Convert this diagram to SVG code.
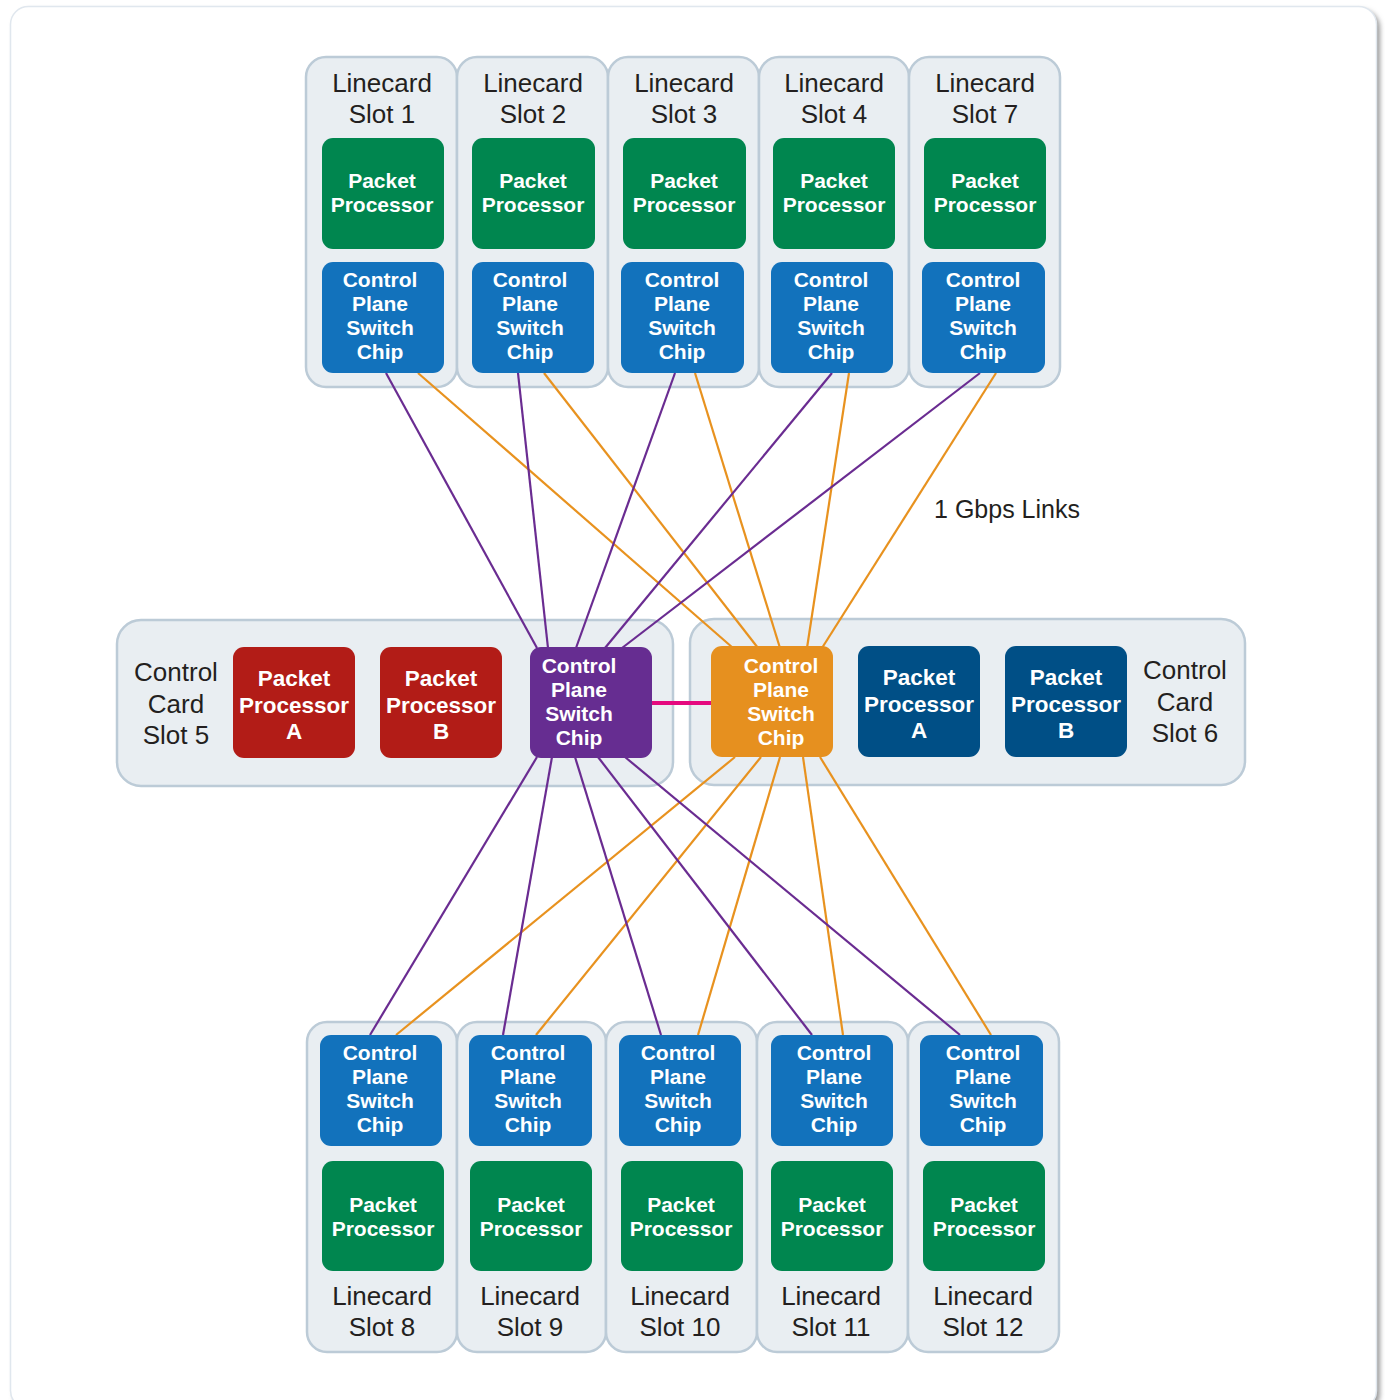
<svg xmlns="http://www.w3.org/2000/svg" width="1385" height="1400" viewBox="0 0 1385 1400">
<defs>
<filter id="sh" x="-5%" y="-5%" width="110%" height="110%"><feGaussianBlur stdDeviation="2.5"/></filter>
</defs>
<style>
.card{fill:#e9eef2;stroke:#bccbd7;stroke-width:2.5}
.lbl{font-family:"Liberation Sans",Arial,sans-serif;font-size:26px;fill:#231f20;text-anchor:middle}
.wt{font-family:"Liberation Sans",Arial,sans-serif;font-weight:bold;font-size:21px;fill:#ffffff;text-anchor:middle}
.wt2{font-family:"Liberation Sans",Arial,sans-serif;font-weight:bold;font-size:22.5px;fill:#ffffff;text-anchor:middle}
.pp{fill:#00864f}
.cp{fill:#1272bc}
.red{fill:#b21c17}
.dblue{fill:#004f86}
.pur{fill:#662d91}
.org{fill:#e6901f}
.lp{stroke:#6a2c91;stroke-width:2.2;fill:none}
.lo{stroke:#e8921f;stroke-width:2.2;fill:none}
</style>
<rect x="14" y="10" width="1366" height="1402" rx="18" fill="#9a9a9a" filter="url(#sh)"/>
<rect x="10.5" y="6.5" width="1366" height="1402" rx="18" fill="#ffffff" stroke="#e0e7ee" stroke-width="1.5"/>

<!-- card backgrounds -->
<g id="cards">
<rect class="card" x="306" y="57" width="151" height="330" rx="20"/>
<rect class="card" x="457" y="57" width="151" height="330" rx="20"/>
<rect class="card" x="608" y="57" width="151" height="330" rx="20"/>
<rect class="card" x="759" y="57" width="150" height="330" rx="20"/>
<rect class="card" x="909" y="57" width="151" height="330" rx="20"/>
<rect class="card" x="117" y="620" width="556" height="166" rx="24"/>
<rect class="card" x="690" y="619" width="555" height="166" rx="24"/>
<rect class="card" x="307" y="1022" width="150" height="330" rx="20"/>
<rect class="card" x="457" y="1022" width="149" height="330" rx="20"/>
<rect class="card" x="606" y="1022" width="151" height="330" rx="20"/>
<rect class="card" x="757" y="1022" width="151" height="330" rx="20"/>
<rect class="card" x="908" y="1022" width="151" height="330" rx="20"/>
</g>

<g id="labels">
<text class="lbl" x="382" y="92">Linecard<tspan x="382" y="123">Slot 1</tspan></text>
<text class="lbl" x="533" y="92">Linecard<tspan x="533" y="123">Slot 2</tspan></text>
<text class="lbl" x="684" y="92">Linecard<tspan x="684" y="123">Slot 3</tspan></text>
<text class="lbl" x="834" y="92">Linecard<tspan x="834" y="123">Slot 4</tspan></text>
<text class="lbl" x="985" y="92">Linecard<tspan x="985" y="123">Slot 7</tspan></text>
<text class="lbl" x="176" y="681">Control<tspan x="176" y="713">Card</tspan><tspan x="176" y="744">Slot 5</tspan></text>
<text class="lbl" x="1185" y="679">Control<tspan x="1185" y="711">Card</tspan><tspan x="1185" y="742">Slot 6</tspan></text>
<text class="lbl" x="382" y="1305">Linecard<tspan x="382" y="1336">Slot 8</tspan></text>
<text class="lbl" x="530" y="1305">Linecard<tspan x="530" y="1336">Slot 9</tspan></text>
<text class="lbl" x="680" y="1305">Linecard<tspan x="680" y="1336">Slot 10</tspan></text>
<text class="lbl" x="831" y="1305">Linecard<tspan x="831" y="1336">Slot 11</tspan></text>
<text class="lbl" x="983" y="1305">Linecard<tspan x="983" y="1336">Slot 12</tspan></text>
<text class="lbl" x="1007" y="518" style="font-size:25px">1 Gbps Links</text>
</g>

<g id="connectors">
<line class="lp" x1="386" y1="373" x2="537" y2="648"/>
<line class="lo" x1="418" y1="373" x2="733" y2="648"/>
<line class="lp" x1="518" y1="373" x2="548" y2="648"/>
<line class="lo" x1="544" y1="373" x2="758" y2="648"/>
<line class="lp" x1="675" y1="373" x2="576" y2="648"/>
<line class="lo" x1="695" y1="373" x2="780" y2="648"/>
<line class="lp" x1="832" y1="373" x2="605" y2="648"/>
<line class="lo" x1="849" y1="373" x2="807" y2="648"/>
<line class="lp" x1="980" y1="373" x2="622" y2="648"/>
<line class="lo" x1="996" y1="373" x2="822" y2="648"/>
<line class="lp" x1="370" y1="1035" x2="537" y2="757"/>
<line class="lo" x1="396" y1="1035" x2="735" y2="757"/>
<line class="lp" x1="503" y1="1035" x2="552" y2="757"/>
<line class="lo" x1="536" y1="1035" x2="761" y2="757"/>
<line class="lp" x1="661" y1="1035" x2="575" y2="757"/>
<line class="lo" x1="698" y1="1035" x2="780" y2="757"/>
<line class="lp" x1="812" y1="1035" x2="598" y2="757"/>
<line class="lo" x1="843" y1="1035" x2="803" y2="757"/>
<line class="lp" x1="960" y1="1035" x2="625" y2="757"/>
<line class="lo" x1="991" y1="1035" x2="820" y2="757"/>
<line x1="651" y1="703" x2="712" y2="703" stroke="#e5097f" stroke-width="4"/>
</g>

<!-- top linecards -->
<g id="lc1-pp"><rect class="pp" x="322" y="138" width="122" height="111" rx="11"/><text class="wt" x="382" y="188">Packet<tspan x="382" y="212">Processor</tspan></text></g>
<g id="lc1-cp"><rect class="cp" x="322" y="262" width="122" height="111" rx="11"/><text class="wt" x="380" y="287">Control<tspan x="380" y="311">Plane</tspan><tspan x="380" y="335">Switch</tspan><tspan x="380" y="359">Chip</tspan></text></g>
<g id="lc2-pp"><rect class="pp" x="472" y="138" width="123" height="111" rx="11"/><text class="wt" x="533" y="188">Packet<tspan x="533" y="212">Processor</tspan></text></g>
<g id="lc2-cp"><rect class="cp" x="472" y="262" width="122" height="111" rx="11"/><text class="wt" x="530" y="287">Control<tspan x="530" y="311">Plane</tspan><tspan x="530" y="335">Switch</tspan><tspan x="530" y="359">Chip</tspan></text></g>
<g id="lc3-pp"><rect class="pp" x="623" y="138" width="123" height="111" rx="11"/><text class="wt" x="684" y="188">Packet<tspan x="684" y="212">Processor</tspan></text></g>
<g id="lc3-cp"><rect class="cp" x="621" y="262" width="123" height="111" rx="11"/><text class="wt" x="682" y="287">Control<tspan x="682" y="311">Plane</tspan><tspan x="682" y="335">Switch</tspan><tspan x="682" y="359">Chip</tspan></text></g>
<g id="lc4-pp"><rect class="pp" x="773" y="138" width="122" height="111" rx="11"/><text class="wt" x="834" y="188">Packet<tspan x="834" y="212">Processor</tspan></text></g>
<g id="lc4-cp"><rect class="cp" x="771" y="262" width="122" height="111" rx="11"/><text class="wt" x="831" y="287">Control<tspan x="831" y="311">Plane</tspan><tspan x="831" y="335">Switch</tspan><tspan x="831" y="359">Chip</tspan></text></g>
<g id="lc7-pp"><rect class="pp" x="924" y="138" width="122" height="111" rx="11"/><text class="wt" x="985" y="188">Packet<tspan x="985" y="212">Processor</tspan></text></g>
<g id="lc7-cp"><rect class="cp" x="922" y="262" width="123" height="111" rx="11"/><text class="wt" x="983" y="287">Control<tspan x="983" y="311">Plane</tspan><tspan x="983" y="335">Switch</tspan><tspan x="983" y="359">Chip</tspan></text></g>

<!-- control card 5 -->
<g id="cc5-ppa"><rect class="red" x="233" y="647" width="122" height="111" rx="11"/><text class="wt2" x="294" y="686">Packet<tspan x="294" y="713">Processor</tspan><tspan x="294" y="739">A</tspan></text></g>
<g id="cc5-ppb"><rect class="red" x="380" y="647" width="122" height="111" rx="11"/><text class="wt2" x="441" y="686">Packet<tspan x="441" y="713">Processor</tspan><tspan x="441" y="739">B</tspan></text></g>
<g id="cc5-cp"><rect class="pur" x="530" y="647" width="122" height="111" rx="11"/><text class="wt" x="579" y="673">Control<tspan x="579" y="697">Plane</tspan><tspan x="579" y="721">Switch</tspan><tspan x="579" y="745">Chip</tspan></text></g>

<!-- control card 6 -->
<g id="cc6-cp"><rect class="org" x="711" y="646" width="122" height="111" rx="11"/><text class="wt" x="781" y="673">Control<tspan x="781" y="697">Plane</tspan><tspan x="781" y="721">Switch</tspan><tspan x="781" y="745">Chip</tspan></text></g>
<g id="cc6-ppa"><rect class="dblue" x="858" y="646" width="122" height="111" rx="11"/><text class="wt2" x="919" y="685">Packet<tspan x="919" y="712">Processor</tspan><tspan x="919" y="738">A</tspan></text></g>
<g id="cc6-ppb"><rect class="dblue" x="1005" y="646" width="122" height="111" rx="11"/><text class="wt2" x="1066" y="685">Packet<tspan x="1066" y="712">Processor</tspan><tspan x="1066" y="738">B</tspan></text></g>

<!-- bottom linecards -->
<g id="lc8-cp"><rect class="cp" x="320" y="1035" width="122" height="111" rx="11"/><text class="wt" x="380" y="1060">Control<tspan x="380" y="1084">Plane</tspan><tspan x="380" y="1108">Switch</tspan><tspan x="380" y="1132">Chip</tspan></text></g>
<g id="lc8-pp"><rect class="pp" x="322" y="1161" width="122" height="110" rx="11"/><text class="wt" x="383" y="1212">Packet<tspan x="383" y="1236">Processor</tspan></text></g>
<g id="lc9-cp"><rect class="cp" x="469" y="1035" width="123" height="111" rx="11"/><text class="wt" x="528" y="1060">Control<tspan x="528" y="1084">Plane</tspan><tspan x="528" y="1108">Switch</tspan><tspan x="528" y="1132">Chip</tspan></text></g>
<g id="lc9-pp"><rect class="pp" x="470" y="1161" width="122" height="110" rx="11"/><text class="wt" x="531" y="1212">Packet<tspan x="531" y="1236">Processor</tspan></text></g>
<g id="lc10-cp"><rect class="cp" x="619" y="1035" width="122" height="111" rx="11"/><text class="wt" x="678" y="1060">Control<tspan x="678" y="1084">Plane</tspan><tspan x="678" y="1108">Switch</tspan><tspan x="678" y="1132">Chip</tspan></text></g>
<g id="lc10-pp"><rect class="pp" x="621" y="1161" width="122" height="110" rx="11"/><text class="wt" x="681" y="1212">Packet<tspan x="681" y="1236">Processor</tspan></text></g>
<g id="lc11-cp"><rect class="cp" x="771" y="1035" width="122" height="111" rx="11"/><text class="wt" x="834" y="1060">Control<tspan x="834" y="1084">Plane</tspan><tspan x="834" y="1108">Switch</tspan><tspan x="834" y="1132">Chip</tspan></text></g>
<g id="lc11-pp"><rect class="pp" x="771" y="1161" width="122" height="110" rx="11"/><text class="wt" x="832" y="1212">Packet<tspan x="832" y="1236">Processor</tspan></text></g>
<g id="lc12-cp"><rect class="cp" x="920" y="1035" width="123" height="111" rx="11"/><text class="wt" x="983" y="1060">Control<tspan x="983" y="1084">Plane</tspan><tspan x="983" y="1108">Switch</tspan><tspan x="983" y="1132">Chip</tspan></text></g>
<g id="lc12-pp"><rect class="pp" x="923" y="1161" width="122" height="110" rx="11"/><text class="wt" x="984" y="1212">Packet<tspan x="984" y="1236">Processor</tspan></text></g>
</svg>
